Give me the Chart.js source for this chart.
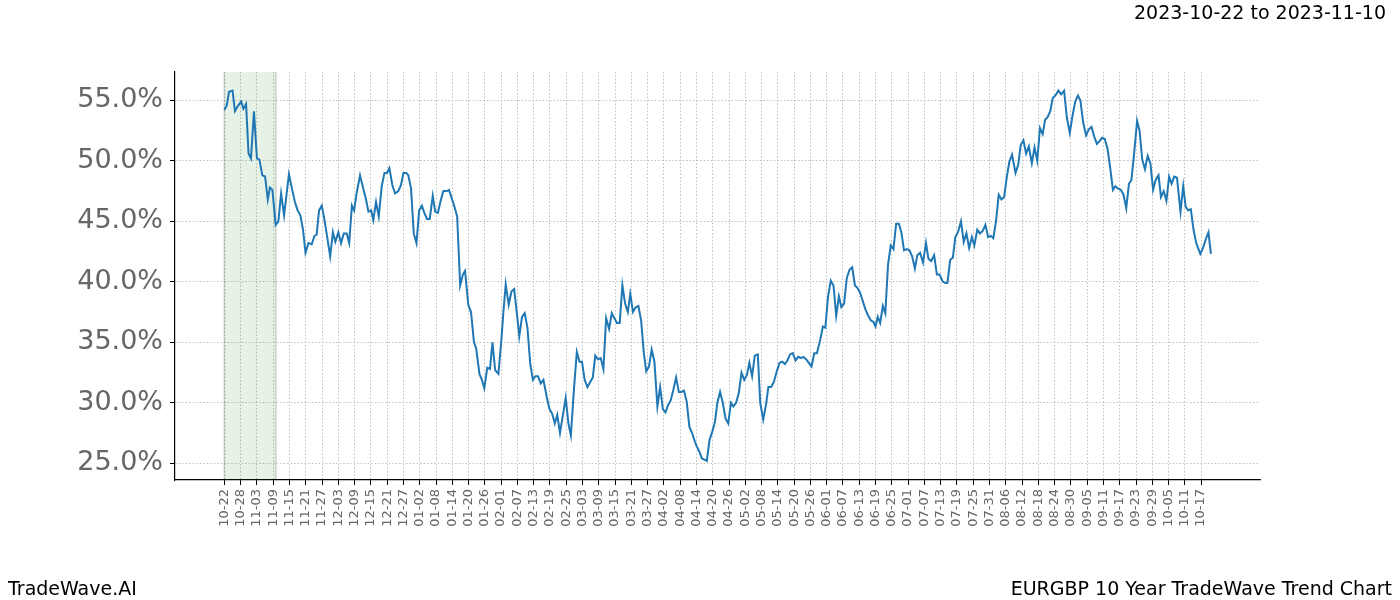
<!DOCTYPE html>
<html>
<head>
<meta charset="utf-8">
<title>EURGBP 10 Year TradeWave Trend Chart</title>
<script src="https://cdn.jsdelivr.net/npm/chart.js@4.4.1/dist/chart.umd.min.js"></script>
<style>
    html, body { margin: 0; padding: 0; background: #fff; }
    #wrap { position: relative; width: 1400px; height: 600px; font-family: "DejaVu Sans", sans-serif; }
    .txt { position: absolute; font-size: 19px; line-height: 19px; color: #000; white-space: nowrap; }
</style>
</head>
<body>
<div id="wrap">
    <canvas id="trendChart" width="1400" height="600"></canvas>
    <div class="txt" style="top:3px; right:14px;">2023-10-22 to 2023-11-10</div>
    <div class="txt" style="top:579px; left:8px;">TradeWave.AI</div>
    <div class="txt" style="top:579px; right:8px;">EURGBP 10 Year TradeWave Trend Chart</div>
</div>
<script>
// tick labels (one every 6 days from 10-22)
const dateLabels = ['10-22','10-28','11-03','11-09','11-15','11-21','11-27','12-03','12-09','12-15','12-21','12-27',
    '01-02','01-08','01-14','01-20','01-26','02-01','02-07','02-13','02-19','02-25','03-03','03-09','03-15','03-21','03-27',
    '04-02','04-08','04-14','04-20','04-26','05-02','05-08','05-14','05-20','05-26','06-01','06-07','06-13','06-19','06-25',
    '07-01','07-07','07-13','07-19','07-25','07-31','08-06','08-12','08-18','08-24','08-30','09-05','09-11','09-17','09-23',
    '09-29','10-05','10-11','10-17'];
const yTicks = [25, 30, 35, 40, 45, 50, 55];

// highlighted window 2023-10-22 .. 2023-11-10 (days from start)
const spanDays = [0, 19];

// trend series: day offset and value (%)
const trendDays = [
    0.0, 0.9, 1.7, 3.0, 3.9, 4.9, 6.2, 7.0, 8.0, 8.9, 9.8, 10.9, 12.0, 12.9, 14.0, 15.0, 16.0, 16.8, 17.7, 18.9,
    19.9, 20.9, 22.0, 22.9, 23.8, 25.0, 26.0, 27.0, 28.0, 29.0, 29.9, 31.0, 32.2, 33.2, 34.0, 34.9, 35.9, 36.9, 37.9, 39.0,
    40.0, 40.9, 42.0, 43.0, 44.0, 45.1, 46.0, 47.0, 47.8, 48.8, 50.0, 51.2, 52.1, 53.1, 54.1, 54.9, 55.9, 56.9, 58.0, 59.0,
    59.9, 60.8, 61.9, 62.9, 64.1, 65.1, 66.0, 67.0, 67.8, 68.8, 69.8, 70.8, 71.8, 72.8, 73.7, 74.7, 75.7, 76.8, 77.7, 78.7,
    79.6, 80.7, 82.0, 82.8, 83.8, 84.8, 85.8, 86.9, 87.9, 88.7, 89.9, 90.9, 92.0, 92.8, 94.0, 94.9, 95.8, 96.9, 97.9, 98.8,
    99.8, 101.0, 102.2, 102.8, 103.7, 104.8, 105.8, 106.8, 107.8, 108.7, 109.7, 110.7, 111.7, 112.7, 113.7, 114.6, 115.6, 116.6, 117.6, 118.8,
    119.8, 120.8, 121.8, 122.7, 123.7, 124.7, 125.8, 126.8, 127.7, 128.9, 129.9, 130.9, 131.8, 132.8, 133.8, 134.8, 135.8, 136.7, 137.7, 138.7,
    139.7, 140.7, 141.8, 142.8, 143.7, 144.7, 145.7, 146.7, 147.7, 148.7, 149.6, 150.6, 151.6, 152.6, 153.6, 154.6, 155.5, 156.5, 157.5, 158.5,
    159.6, 160.6, 161.6, 162.6, 163.5, 164.5, 165.5, 166.5, 167.5, 168.4, 169.4, 170.4, 171.4, 172.4, 173.4, 174.1, 175.0, 176.0, 176.9, 177.8,
    178.8, 179.8, 180.8, 181.7, 182.7, 183.7, 184.7, 185.7, 186.7, 187.6, 188.6, 189.6, 190.6, 191.6, 192.6, 193.5, 194.5, 195.5, 196.6, 197.5,
    198.6, 199.6, 200.5, 201.5, 202.5, 203.6, 204.6, 205.6, 206.6, 207.5, 208.5, 209.5, 210.5, 211.5, 212.5, 213.4, 214.4, 215.4, 216.4, 217.4,
    218.4, 219.6, 220.6, 221.5, 222.5, 223.5, 224.5, 225.5, 226.5, 227.4, 228.4, 229.4, 230.4, 231.4, 232.4, 233.3, 234.3, 235.3, 236.3, 237.3,
    238.3, 239.2, 240.0, 240.8, 241.7, 242.7, 243.6, 244.6, 245.6, 246.6, 247.6, 248.6, 249.5, 250.5, 251.5, 252.5, 253.5, 254.5, 255.4, 256.4,
    257.5, 258.6, 259.5, 260.5, 261.6, 262.6, 263.6, 264.8, 265.8, 266.5, 267.5, 268.5, 269.4, 270.4, 271.5, 272.5, 273.5, 274.5, 275.5, 276.4,
    277.5, 278.5, 279.5, 280.5, 281.5, 282.5, 283.4, 284.4, 285.4, 286.4, 287.4, 288.4, 289.3, 290.3, 291.6, 292.6, 293.5, 294.5, 295.5, 296.5,
    297.6, 298.6, 299.6, 300.6, 301.6, 302.5, 303.4, 304.4, 305.3, 306.3, 307.4, 308.4, 309.5, 310.5, 311.6, 312.5, 313.6, 314.6, 315.5, 316.5,
    317.6, 318.6, 319.6, 320.6, 321.6, 322.5, 323.5, 324.5, 325.5, 326.5, 327.5, 328.4, 329.4, 330.4, 331.4, 332.4, 333.4, 334.3, 335.3, 336.4,
    337.3, 338.3, 339.3, 340.3, 341.3, 342.3, 343.2, 344.3, 345.2, 346.2, 347.2, 348.2, 349.1, 350.1, 351.1, 352.4, 353.4, 354.3, 355.3, 356.2,
    357.2, 358.2, 359.2, 359.7, 360.7, 361.7, 362.7, 363.6
];
const trendValues = [
    54.2, 54.6, 55.7, 55.8, 54.1, 54.5, 54.9, 54.3, 54.7, 50.6, 50.2, 54.1, 50.2, 50.1, 48.8, 48.7, 46.8, 47.8, 47.6, 44.7,
    45.0, 47.3, 45.5, 47.2, 48.9, 47.6, 46.6, 45.9, 45.5, 44.3, 42.4, 43.2, 43.1, 43.8, 43.9, 45.9, 46.3, 45.1, 43.7, 42.1,
    44.1, 43.3, 44.1, 43.2, 44.0, 44.0, 43.2, 46.3, 45.9, 47.4, 48.8, 47.7, 46.9, 45.8, 45.9, 45.1, 46.6, 45.4, 47.9, 49.0,
    49.0, 49.4, 48.0, 47.3, 47.5, 48.0, 49.0, 49.0, 48.8, 47.7, 44.0, 43.2, 45.9, 46.3, 45.7, 45.2, 45.2, 47.1, 45.8, 45.7,
    46.6, 47.5, 47.5, 47.6, 46.9, 46.2, 45.4, 39.7, 40.6, 40.9, 38.1, 37.5, 35.0, 34.5, 32.4, 31.9, 31.2, 32.9, 32.8, 35.0,
    32.7, 32.4, 35.5, 37.4, 39.8, 38.1, 39.2, 39.4, 37.4, 35.5, 37.1, 37.4, 36.2, 33.3, 31.9, 32.2, 32.2, 31.6, 31.9, 30.5,
    29.5, 29.1, 28.3, 29.0, 27.5, 28.9, 30.4, 28.3, 27.3, 31.3, 34.2, 33.4, 33.4, 31.9, 31.3, 31.7, 32.1, 33.9, 33.6, 33.7,
    32.8, 37.0, 36.1, 37.4, 37.0, 36.6, 36.6, 39.7, 38.2, 37.5, 39.0, 37.5, 37.9, 38.0, 36.8, 34.1, 32.6, 33.0, 34.4, 33.4,
    29.7, 31.3, 29.5, 29.2, 29.8, 30.2, 31.1, 32.1, 30.9, 30.9, 31.0, 30.1, 28.0, 27.5, 26.8, 26.4, 26.0, 25.4, 25.3, 25.2,
    26.9, 27.6, 28.4, 30.0, 30.9, 30.0, 28.7, 28.3, 30.0, 29.7, 30.0, 30.8, 32.5, 31.9, 32.3, 33.3, 32.2, 33.9, 34.0, 30.0,
    28.6, 29.8, 31.3, 31.3, 31.7, 32.6, 33.3, 33.4, 33.2, 33.5, 34.0, 34.1, 33.5, 33.8, 33.7, 33.8, 33.6, 33.3, 33.0, 34.1,
    34.1, 35.2, 36.3, 36.2, 38.8, 40.1, 39.7, 37.2, 38.8, 37.9, 38.2, 40.3, 41.0, 41.2, 39.7, 39.5, 39.1, 38.4, 37.7, 37.2,
    36.8, 36.7, 36.3, 37.1, 36.6, 38.0, 37.4, 41.4, 43.0, 42.7, 44.8, 44.8, 44.1, 42.6, 42.7, 42.6, 42.1, 41.1, 42.2, 42.4,
    41.6, 43.2, 41.9, 41.7, 42.2, 40.6, 40.6, 40.0, 39.9, 39.9, 41.8, 42.0, 43.7, 44.1, 45.0, 43.3, 44.0, 42.8, 43.7, 43.0,
    44.3, 44.0, 44.2, 44.7, 43.7, 43.8, 43.6, 45.0, 47.2, 46.8, 47.0, 48.7, 49.9, 50.5, 49.0, 49.7, 51.3, 51.7, 50.6, 51.2,
    49.8, 51.1, 50.0, 52.7, 52.2, 53.4, 53.6, 54.1, 55.2, 55.4, 55.8, 55.5, 55.8, 53.6, 52.3, 53.6, 54.9, 55.4, 55.0, 53.2,
    52.1, 52.6, 52.8, 52.0, 51.4, 51.6, 51.9, 51.8, 51.0, 49.4, 47.6, 47.9, 47.7, 47.6, 47.2, 46.1, 48.1, 48.4, 50.6, 53.3,
    52.5, 50.1, 49.3, 50.4, 49.8, 47.6, 48.4, 48.8, 47.0, 47.5, 46.7, 48.7, 48.1, 48.7, 48.6, 45.8, 47.9, 46.2, 45.9, 46.0,
    44.3, 43.2, 42.6, 42.3, 42.8, 43.5, 44.1, 42.3
];

const TICK_STEP = 6;
const gray = '#666666';

// green window behind the line
const spanPlugin = {
    id: 'spanPlugin',
    beforeDatasetsDraw(chart) {
        const { ctx, chartArea, scales } = chart;
        const x0 = scales.x.getPixelForValue(spanDays[0]);
        const x1 = scales.x.getPixelForValue(spanDays[1]);
        ctx.save();
        ctx.fillStyle = 'rgba(0,128,0,0.1)';
        ctx.fillRect(x0, chartArea.top, x1 - x0, chartArea.bottom - chartArea.top);
        ctx.strokeStyle = 'rgba(0,0,0,0.13)';
        ctx.lineWidth = 2;
        ctx.beginPath();
        ctx.moveTo(x0, chartArea.top); ctx.lineTo(x0, chartArea.bottom);
        ctx.moveTo(x1, chartArea.top); ctx.lineTo(x1, chartArea.bottom);
        ctx.stroke();
        ctx.restore();
    }
};

new Chart(document.getElementById('trendChart'), {
    type: 'line',
    data: {
        datasets: [{
            data: trendDays.map((d, i) => ({ x: d, y: trendValues[i] })),
            borderColor: '#1f77b4',
            borderWidth: 2,
            pointRadius: 0,
            tension: 0,
            fill: false
        }]
    },
    options: {
        responsive: false,
        animation: false,
        devicePixelRatio: 1,
        layout: { padding: { left: 0, top: 72, right: 140, bottom: 0 } },
        plugins: { legend: { display: false }, tooltip: { enabled: false } },
        scales: {
            x: {
                type: 'linear',
                min: -18.2,
                max: 381.7,
                afterBuildTicks: s => { s.ticks = dateLabels.map((_, i) => ({ value: i * TICK_STEP })); },
                afterFit: s => { s.height = 120; },
                ticks: {
                    autoSkip: false,
                    minRotation: 90,
                    maxRotation: 90,
                    padding: 4,
                    color: gray,
                    font: { family: 'DejaVu Sans', size: 13 },
                    callback: v => dateLabels[Math.round(v / TICK_STEP)]
                },
                grid: { color: '#b0b0b0', lineWidth: 0.8, tickColor: '#000', tickLength: 5, tickWidth: 1 },
                border: { display: true, color: '#000', width: 1.2, dash: [1.5, 2] }
            },
            y: {
                min: 23.62,
                max: 57.34,
                afterBuildTicks: s => { s.ticks = yTicks.map(v => ({ value: v })); },
                afterFit: s => { s.width = 175; },
                ticks: {
                    padding: 7,
                    color: gray,
                    font: { family: 'DejaVu Sans', size: 27 },
                    callback: v => v.toFixed(1) + '%'
                },
                grid: { color: '#b0b0b0', lineWidth: 0.8, tickColor: '#000', tickLength: 5, tickWidth: 1 },
                border: { display: true, color: '#000', width: 1.2, dash: [1.5, 2] }
            }
        }
    },
    plugins: [spanPlugin]
});
</script>
</body>
</html>
